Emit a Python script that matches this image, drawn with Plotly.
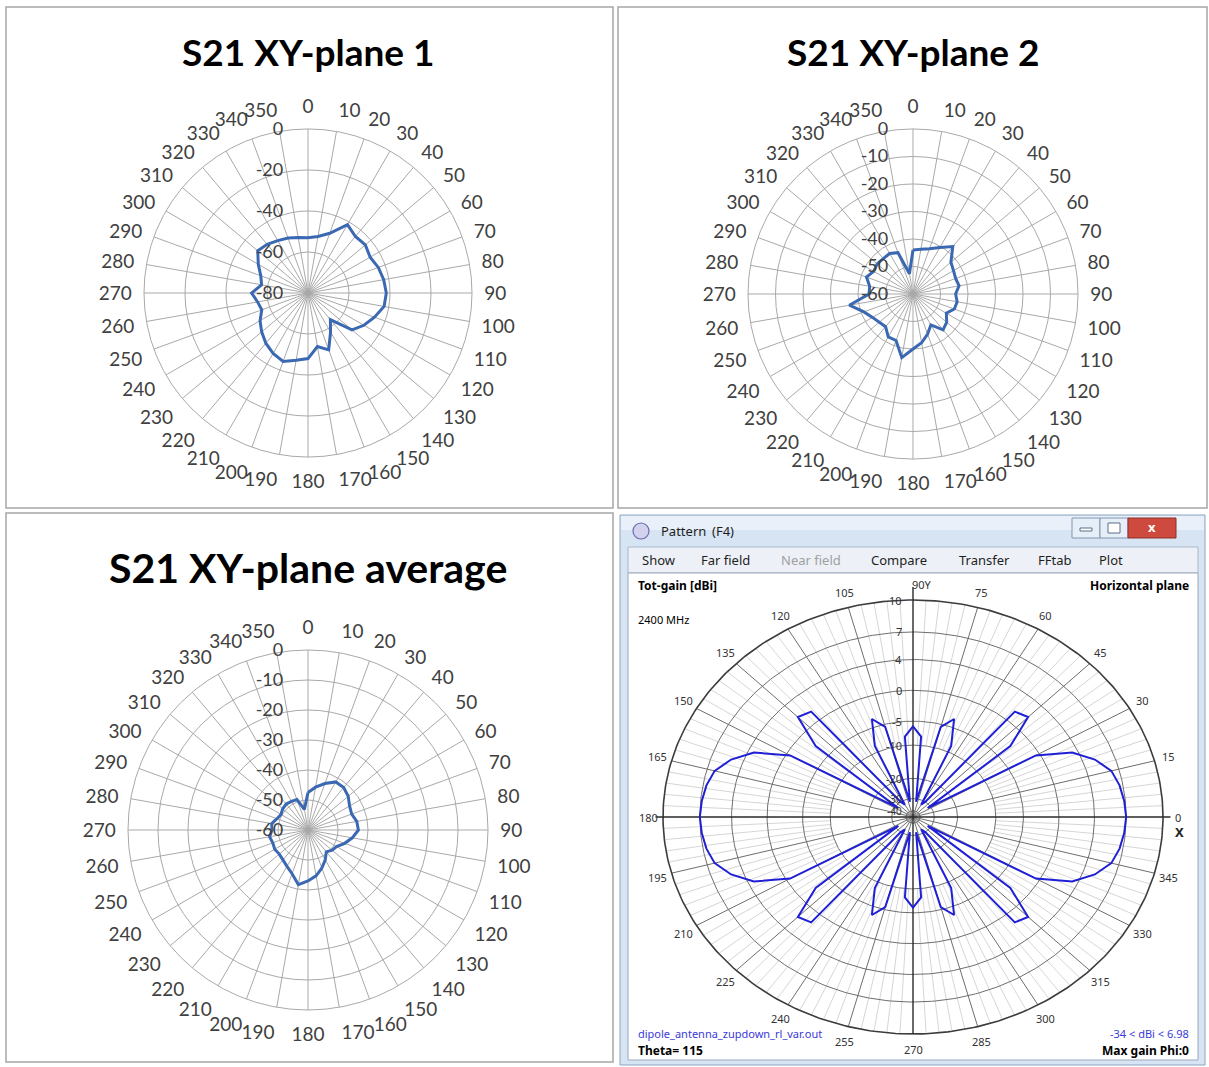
import numpy as np
import plotly.graph_objects as go

W, H = 1209, 1067

# ---------------- data: Excel radar panels ----------------
angles = list(range(0, 360, 10))
angle_labels = [str(a) for a in angles]

s21_plane1 = [-53, -52, -49, -41.5, -44, -43.5, -45, -43.5, -42.5, -41.8,
              -42.3, -45.5, -48.5, -52, -63, -58, -50.5, -53.5, -48, -46.7,
              -44.5, -46, -48, -50.5, -53, -56, -55, -52.5, -57, -55.5,
              -52, -48, -49, -50.5, -51.5, -52.5]
s21_plane2 = [-44, -43.5, -42.5, -40.5, -37.5, -42, -43, -43.5, -43, -44.5,
              -43.7, -44, -46, -44, -43, -47, -44.5, -42, -40, -36.5,
              -42, -42, -44.5, -44, -43, -41, -36.5, -44, -44, -42,
              -43.5, -43, -43.2, -43, -44, -52.5]
s21_average = [-47.5, -45.5, -43.5, -41.5, -41.5, -42.5, -44, -44.5, -43.5, -43.2,
               -45, -47, -49, -49.5, -50.5, -48.5, -46.5, -44.5, -43, -41.5,
               -44.5, -46, -47, -47.5, -47.2, -47.5, -47, -48, -47.7, -49,
               -49.6, -49, -48.7, -49, -49.2, -53]
radial_ticks_1 = [-80, -60, -40, -20, 0]
radial_ticks_2 = [-60, -50, -40, -30, -20, -10, 0]

# ---------------- data: 4NEC2 pattern panel ----------------
phi4 = list(range(0, 360, 5))
gain4 = [7.0, 6.9, 6.7, 6.3, 5.2, 3.4, -0.5, -32, -2.5, 2.0, 1.5, -30, -33, -8.5, -3.5, -5.5, -32, -8,
         -6, -8, -32, -5.5, -3.5, -8.5, -33, -30, 1.5, 2.0, -2.5, -32, -0.5, 3.4, 5.2, 6.3, 6.7, 6.9,
         7.0, 6.9, 6.7, 6.3, 5.2, 3.4, -0.5, -32, -2.5, 2.0, 1.5, -30, -33, -8.5, -3.5, -5.5, -32, -8,
         -6, -8, -32, -5.5, -3.5, -8.5, -33, -30, 1.5, 2.0, -2.5, -32, -0.5, 3.4, 5.2, 6.3, 6.7, 6.9]
ring_db = [10, 7, 4, 0, -5, -10, -20, -30, -40]
ring_labels = ["10", "7", "4", "0", "-5", "-10", "-20", "-30", "-40"]
phi_major = list(range(0, 360, 15))
phi_major_labels = ["0", "15", "30", "45", "60", "75", "90Y", "105", "120", "135", "150", "165",
                    "180", "195", "210", "225", "240", "255", "270", "285", "300", "315", "330", "345"]


def rscale(db):
    db = np.asarray(db, dtype=float)
    return (np.exp(-0.05 * (10 - db)) - 0.055) / 0.945


def px(x):
    return x / W


def py(y):
    return 1 - y / H


def dom(cx, cy, R):
    return dict(x=[px(cx - R), px(cx + R)], y=[py(cy + R), py(cy - R)])


GRID = "#a9a9a9"
TXT = "#404040"
LINE = "#3a68b2"
XFONT = "Lato"

fig = go.Figure()


def closed(a, v):
    return list(a) + [a[0]], list(v) + [v[0]]


for name, vals in [("polar", s21_plane1), ("polar2", s21_plane2), ("polar3", s21_average)]:
    th, rr = closed(angles, vals)
    fig.add_trace(go.Scatterpolar(theta=th, r=rr, mode="lines", subplot=name,
                                  line=dict(color=LINE, width=3), showlegend=False,
                                  hoverinfo="skip"))


def polar_layout(cx, cy, R, rticks):
    return dict(
        domain=dom(cx, cy, R),
        bgcolor="white",
        angularaxis=dict(rotation=90, direction="clockwise", tickmode="array",
                         tickvals=angles, ticktext=angle_labels,
                         tickfont=dict(family=XFONT, size=19, color=TXT),
                         showline=True, linecolor=GRID, linewidth=1,
                         gridcolor=GRID, gridwidth=1,
                         ticks="outside", ticklen=8, tickcolor="rgba(0,0,0,0)"),
        radialaxis=dict(range=[rticks[0], rticks[-1]], tickmode="array", tickvals=rticks,
                        ticktext=[str(v) for v in rticks], tickangle=90,
                        angle=90, side="counterclockwise", showline=False,
                        gridcolor=GRID, gridwidth=1,
                        tickfont=dict(family=XFONT, size=18, color=TXT),
                        ticks="outside", ticklen=18, tickcolor="rgba(0,0,0,0)"),
    )


# ---------------- panel 4 (cartesian rendering of the log-scaled polar plot) ----------------
tt = np.linspace(0, 2 * np.pi, 361)
mx, my = [], []
for a in range(0, 360, 3):
    if a % 15 == 0:
        continue
    ar = np.deg2rad(a)
    r0, r1 = float(rscale(-10)), 1.0
    mx += [r0 * np.cos(ar), r1 * np.cos(ar), None]
    my += [r0 * np.sin(ar), r1 * np.sin(ar), None]
fig.add_trace(go.Scatter(x=mx, y=my, mode="lines", line=dict(color="#d6d6d6", width=1),
                         showlegend=False, hoverinfo="skip", xaxis="x", yaxis="y"))
rx, ry = [], []
for d in ring_db[1:]:
    rr = float(rscale(d))
    rx += list(rr * np.cos(tt)) + [None]
    ry += list(rr * np.sin(tt)) + [None]
fig.add_trace(go.Scatter(x=rx, y=ry, mode="lines", line=dict(color="#6e6e6e", width=1),
                         showlegend=False, hoverinfo="skip", xaxis="x", yaxis="y"))
sx, sy = [], []
for a in phi_major:
    if a % 90 == 0:
        continue
    ar = np.deg2rad(a)
    sx += [0, np.cos(ar), None]
    sy += [0, np.sin(ar), None]
fig.add_trace(go.Scatter(x=sx, y=sy, mode="lines", line=dict(color="#6e6e6e", width=1),
                         showlegend=False, hoverinfo="skip", xaxis="x", yaxis="y"))
ro = float(rscale(ring_db[0]))
fig.add_trace(go.Scatter(x=ro * np.cos(tt), y=ro * np.sin(tt), mode="lines",
                         line=dict(color="#3c3c3c", width=1.6),
                         showlegend=False, hoverinfo="skip", xaxis="x", yaxis="y"))
fig.add_trace(go.Scatter(x=[-1.03, 1.03, None, 0, 0], y=[0, 0, None, -1.0, 1.06], mode="lines",
                         line=dict(color="#2a2a2a", width=1.4),
                         showlegend=False, hoverinfo="skip", xaxis="x", yaxis="y"))
ph, gg = closed(phi4, gain4)
phr = np.deg2rad(ph)
rg = rscale(gg)
fig.add_trace(go.Scatter(x=rg * np.cos(phr), y=rg * np.sin(phr), mode="lines",
                         line=dict(color="#1f1fd6", width=2),
                         showlegend=False, hoverinfo="skip", xaxis="x", yaxis="y"))

annotations = []


def ann(text, x, y, size, color="#000", bold=False, xanchor="center", yanchor="middle",
        family=XFONT, xref="paper", yref="paper"):
    if bold:
        text = "<b>" + text + "</b>"
    if xref == "paper":
        x, y = px(x), py(y)
    annotations.append(dict(text=text, x=x, y=y, xref=xref, yref=yref, showarrow=False,
                            xanchor=xanchor, yanchor=yanchor,
                            font=dict(family=family, size=size, color=color)))


ann("S21 XY-plane 1", 308, 52, 37, "#000", True)
ann("S21 XY-plane 2", 913, 52, 37, "#000", True)
ann("S21 XY-plane average", 308, 567, 41, "#000", True)

WF = "Noto Sans"
for a, lab in zip(phi_major, phi_major_labels):
    ar = np.deg2rad(a)
    xx, yy = 1.06 * np.cos(ar), 1.07 * np.sin(ar)
    if a == 90:
        xx = 0.035
    ann(lab, xx, yy, 11, "#333", False, family=WF, xref="x", yref="y")
ann("X", 1.065, -0.07, 13, "#222", True, family=WF, xref="x", yref="y")
for d, lab in zip(ring_db, ring_labels):
    ann(lab, -0.035, float(rscale(d)), 11 if d > -30 else 10, "#333", False, xanchor="right",
        family=WF, xref="x", yref="y")

ann("Pattern", 659, 531, 13, "#1e1e1e", xanchor="left", family=WF)
ann("(F4)", 710, 531, 13, "#1e1e1e", xanchor="left", family=WF)
menu = [("Show", 640, "#1e1e1e"), ("Far field", 699, "#1e1e1e"), ("Near field", 779, "#a0a0a0"),
        ("Compare", 869, "#1e1e1e"), ("Transfer", 957, "#1e1e1e"), ("FFtab", 1036, "#1e1e1e"),
        ("Plot", 1097, "#1e1e1e")]
for t, x, c in menu:
    ann(t, x, 560, 13, c, xanchor="left", family=WF)
ann("Tot-gain [dBi]", 636, 585, 12, "#000", True, xanchor="left", family=WF)
ann("Horizontal plane", 1191, 585, 12, "#000", True, xanchor="right", family=WF)
ann("2400 MHz", 636, 619, 11, "#000", xanchor="left", family=WF)
ann("dipole_antenna_zupdown_rl_var.out", 636, 1033, 11, "#3a3ad8", xanchor="left", family=WF)
ann("Theta= 115", 636, 1050, 12, "#000", True, xanchor="left", family=WF)
ann("-34 &lt; dBi &lt; 6.98", 1191, 1033, 11, "#3a3ad8", xanchor="right", family=WF)
ann("Max gain Phi:0", 1191, 1050, 12, "#000", True, xanchor="right", family=WF)
ann("x", 1152, 527, 13, "white", True, family=WF)

shapes = []


def rect(x0, y0, x1, y1, line="#a6a6a6", fill="rgba(0,0,0,0)", lw=1.5, layer="below"):
    shapes.append(dict(type="rect", xref="paper", yref="paper", x0=px(x0), x1=px(x1),
                       y0=py(y1), y1=py(y0), line=dict(color=line, width=lw),
                       fillcolor=fill, layer=layer))


rect(6, 7, 613, 508)
rect(618, 7, 1207, 508)
rect(6, 513, 613, 1062)
rect(620, 515, 1205, 1065, line="#8fa5c0", fill="#d7e4f3", lw=1)
rect(621, 516, 1204, 530, line="rgba(0,0,0,0)", fill="#e9f0f9", lw=0)
rect(628, 547, 1198, 573, line="#a9b7ca", fill="#edf1f7", lw=1)
rect(628, 573, 1198, 1060, line="#9aa8bb", fill="white", lw=1)
rect(1072, 518, 1100, 538, line="#8096b3", fill="#e6eef8", lw=1)
rect(1100, 518, 1128, 538, line="#8096b3", fill="#e6eef8", lw=1)
rect(1128, 518, 1176, 538, line="#8a3028", fill="#cf4a3e", lw=1)
rect(1080, 528, 1092, 531, line="#5b6f8a", fill="white", lw=1)
rect(1108, 523, 1120, 533, line="#5b6f8a", fill="white", lw=1)
shapes.append(dict(type="circle", xref="paper", yref="paper", x0=px(633), x1=px(649),
                   y0=py(539), y1=py(523), line=dict(color="#6c6caa", width=1.2),
                   fillcolor="#d2d2ee", layer="below"))

XR = 1.1
fig.update_layout(
    width=W, height=H, margin=dict(l=0, r=0, t=0, b=0),
    paper_bgcolor="white", plot_bgcolor="rgba(0,0,0,0)",
    showlegend=False,
    polar=polar_layout(308, 293, 164, radial_ticks_1),
    polar2=polar_layout(913, 294, 165, radial_ticks_2),
    polar3=polar_layout(308, 830, 180, radial_ticks_2),
    xaxis=dict(domain=[px(913 - 250 * XR), px(913 + 250 * XR)], range=[-XR, XR],
               visible=False, fixedrange=True),
    yaxis=dict(domain=[py(817 + 217 * XR), py(817 - 217 * XR)], range=[-XR, XR],
               visible=False, fixedrange=True),
    annotations=annotations,
    shapes=shapes,
)

fig.write_html("out.html", config={"displayModeBar": False},
               post_script="document.body.style.margin='0';document.body.style.overflow='hidden';")
